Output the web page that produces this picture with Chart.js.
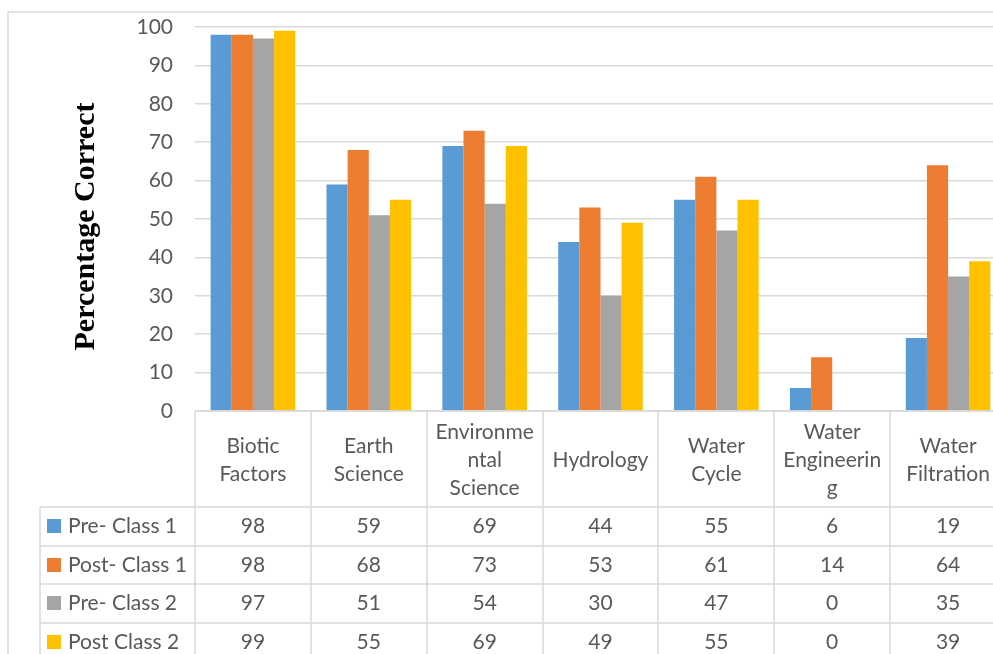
<!DOCTYPE html>
<html lang="en">
<head>
<meta charset="UTF-8">
<title>Percentage Correct by Topic</title>
<script src="https://cdn.jsdelivr.net/npm/chart.js"></script>
<style>
  html, body { margin:0; padding:0; background:#fff; overflow:hidden; }
  #wrap { width:1006px; height:654px; }
</style>
</head>
<body>
<div id="wrap"><canvas id="chart" width="1006" height="654"></canvas></div>
<script>
// categories (wrapped the way the table shows them)
const categories = ['Biotic Factors', 'Earth Science', 'Environmental Science', 'Hydrology', 'Water Cycle', 'Water Engineering', 'Water Filtration'];
const categoryLines = [
  ['Biotic', 'Factors'],
  ['Earth', 'Science'],
  ['Environme', 'ntal', 'Science'],
  ['Hydrology'],
  ['Water', 'Cycle'],
  ['Water', 'Engineerin', 'g'],
  ['Water', 'Filtration']
];
const seriesNames = ['Pre- Class 1', 'Post- Class 1', 'Pre- Class 2', 'Post Class 2'];
const preClass1  = [98, 59, 69, 44, 55, 6, 19];
const postClass1 = [98, 68, 73, 53, 61, 14, 64];
const preClass2  = [97, 51, 54, 30, 47, 0, 35];
const postClass2 = [99, 55, 69, 49, 55, 0, 39];
const seriesColors = ['#5b9bd5', '#ed7d31', '#a5a5a5', '#ffc000'];
const yTicks = [0, 10, 20, 30, 40, 50, 60, 70, 80, 90, 100];

const seriesData = [preClass1, postClass1, preClass2, postClass2];
const LINE = '#d9d9d9';
const TXT = '#595959';
const FONT = 'Lato, "Open Sans", sans-serif';

// data table under the plot, laid out on the x scale
const tablePlugin = {
  id: 'dataTable',
  afterDraw(chart) {
    const ctx = chart.ctx;
    const area = chart.chartArea;
    const xs = chart.scales.x;
    const step = xs.getPixelForValue(1) - xs.getPixelForValue(0);
    const half = step / 2;
    const catTop = area.bottom;
    const rowTop = catTop + 96;
    const rowH = 38.5;
    const legendLeft = 40;
    const bottom = chart.height;

    ctx.save();
    // outer chart border
    ctx.strokeStyle = LINE; ctx.lineWidth = 1.5;
    ctx.strokeRect(8, 12, chart.width + 20, bottom + 20);

    ctx.beginPath();
    // category column lines
    for (let i = 0; i <= categories.length; i++) {
      const x = Math.round(xs.getPixelForValue(0) - half + i * step);
      ctx.moveTo(x, catTop); ctx.lineTo(x, bottom);
    }
    // legend column left
    ctx.moveTo(legendLeft, rowTop); ctx.lineTo(legendLeft, bottom);
    // row lines
    for (let r = 0; r <= seriesNames.length; r++) {
      const y = Math.round(rowTop + r * rowH);
      ctx.moveTo(legendLeft, y); ctx.lineTo(chart.width, y);
    }
    ctx.moveTo(area.left, catTop); ctx.lineTo(chart.width, catTop);
    ctx.stroke();

    ctx.fillStyle = TXT;
    ctx.font = '21px ' + FONT;
    ctx.textAlign = 'center';
    ctx.textBaseline = 'middle';
    // category labels
    const lh = 28;
    categoryLines.forEach((lines, i) => {
      const cx = xs.getPixelForValue(i);
      const mid = (catTop + rowTop) / 2 + 1;
      lines.forEach((t, k) => {
        ctx.fillText(t, cx, mid + (k - (lines.length - 1) / 2) * lh);
      });
    });
    // values + legend keys
    seriesData.forEach((vals, r) => {
      const cy = rowTop + r * rowH + rowH / 2;
      vals.forEach((v, i) => {
        ctx.textAlign = 'center';
        ctx.fillText(String(v), xs.getPixelForValue(i), cy);
      });
      ctx.fillStyle = seriesColors[r];
      ctx.fillRect(47, Math.round(cy - 7), 14, 14);
      ctx.fillStyle = TXT;
      ctx.textAlign = 'left';
      ctx.fillText(seriesNames[r], 68, cy);
    });
    ctx.restore();
  }
};

new Chart(document.getElementById('chart'), {
  type: 'bar',
  data: {
    labels: categories,
    datasets: seriesNames.map((name, i) => ({
      label: name,
      data: seriesData[i],
      backgroundColor: seriesColors[i],
      borderWidth: 0,
      barPercentage: 1,
      categoryPercentage: 0.73
    }))
  },
  options: {
    responsive: false,
    animation: false,
    layout: { padding: { top: 27, bottom: 243, left: 0, right: 0 } },
    plugins: { legend: { display: false }, tooltip: { enabled: false } },
    scales: {
      x: { display: false },
      y: {
        min: 0, max: 100,
        afterFit(scale) {
          scale.width = 195;
          // tick padding is only horizontal here
          scale.paddingTop = 0;
          scale.paddingBottom = 0;
        },
        afterBuildTicks(scale) { scale.ticks = yTicks.map(v => ({ value: v })); },
        border: { display: false },
        grid: { color: LINE, lineWidth: 1.5, drawTicks: false },
        ticks: { padding: 22, color: TXT, font: { family: FONT, size: 21 } },
        title: {
          display: true,
          text: 'Percentage Correct  ',
          color: '#000',
          font: { family: '"Liberation Serif", "Times New Roman", serif', size: 30, weight: 'bold' },
          padding: { top: 68, bottom: 0 }
        }
      }
    }
  },
  plugins: [tablePlugin]
});
</script>
</body>
</html>
